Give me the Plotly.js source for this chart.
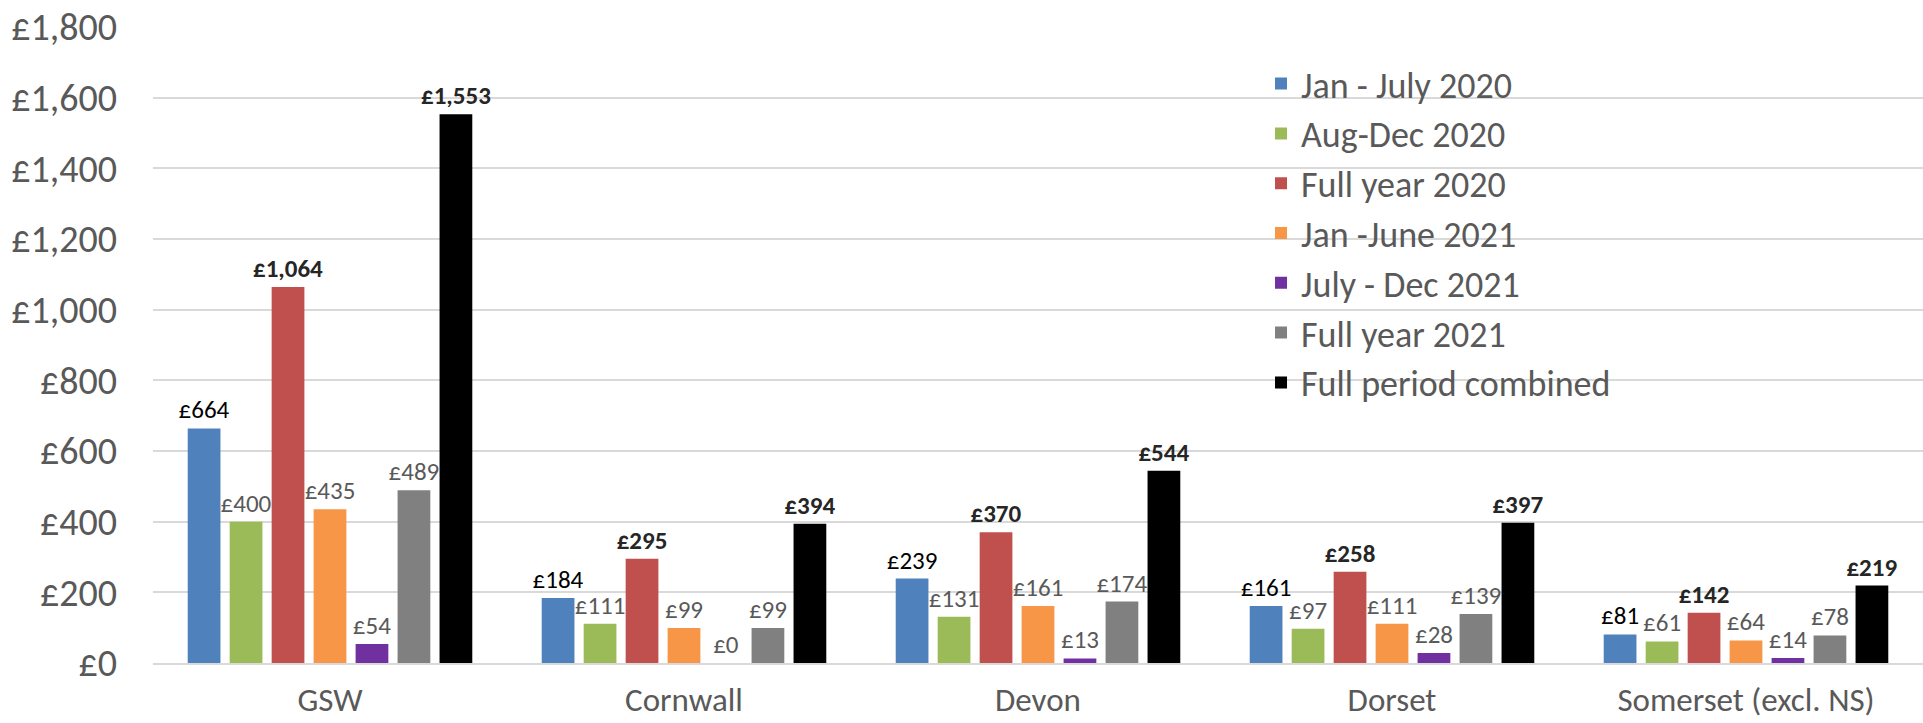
<!DOCTYPE html>
<html>
<head>
<meta charset="utf-8">
<script src="https://cdn.plot.ly/plotly-3.0.1.min.js"></script>
<style>html,body{margin:0;padding:0;background:#fff;}#chart{width:1923px;height:723px;}</style>
</head>
<body>
<div id="chart"></div>
<script>
const categories = ["GSW", "Cornwall", "Devon", "Dorset", "Somerset (excl. NS)"];
const seriesNames = ["Jan - July 2020", "Aug-Dec 2020", "Full year 2020", "Jan -June 2021", "July - Dec 2021", "Full year 2021", "Full period combined"];
const janJul2020 = [664, 184, 239, 161, 81];
const augDec2020 = [400, 111, 131, 97, 61];
const fullYear2020 = [1064, 295, 370, 258, 142];
const janJun2021 = [435, 99, 161, 111, 64];
const julDec2021 = [54, 0, 13, 28, 14];
const fullYear2021 = [489, 99, 174, 139, 78];
const fullPeriod = [1553, 394, 544, 397, 219];
const yTickVals = [0, 200, 400, 600, 800, 1000, 1200, 1400, 1600, 1800];

const seriesValues = [janJul2020, augDec2020, fullYear2020, janJun2021, julDec2021, fullYear2021, fullPeriod];
const colors = ["#4f81bd", "#9bbb59", "#c0504d", "#f79646", "#7030a0", "#808080", "#000000"];
const labelColors = ["#000000", "#595959", "#262626", "#595959", "#595959", "#595959", "#262626"];
const labelBold = [false, false, true, false, false, false, true];
const FONT = "Carlito, 'Open Sans', 'Noto Sans', sans-serif";
const fmt = v => "£" + v.toLocaleString("en-GB");

const traces = seriesValues.map((vals, i) => ({
  type: "bar",
  name: seriesNames[i],
  x: categories,
  y: vals,
  marker: {color: colors[i]},
  text: vals.map(v => labelBold[i] ? "<b>" + fmt(v) + "</b>" : fmt(v)),
  textposition: "outside",
  constraintext: "none",
  cliponaxis: false,
  textfont: {family: FONT, size: 25, color: labelColors[i]},
  hoverinfo: "skip"
}));

const layout = {
  width: 1923, height: 723,
  margin: {l: 153, r: 0, t: 27, b: 60},
  paper_bgcolor: "#ffffff", plot_bgcolor: "#ffffff",
  barmode: "group", bargap: 0.17, bargroupgap: 0.22,
  font: {family: FONT, color: "#595959"},
  xaxis: {
    type: "category", showgrid: false, showline: true, linecolor: "#d9d9d9", linewidth: 2,
    ticks: "", ticklabelstandoff: 6, tickfont: {size: 33, color: "#595959"}
  },
  yaxis: {
    range: [0, 1800], tickvals: yTickVals, ticktext: yTickVals.map(fmt),
    showgrid: true, gridcolor: "#d9d9d9", gridwidth: 2, zeroline: false,
    ticks: "", ticklabelstandoff: 35, tickfont: {size: 38, color: "#595959"}
  },
  legend: {
    x: 0.626, y: 0.958, xanchor: "left", yanchor: "top",
    bgcolor: "rgba(0,0,0,0)", font: {size: 36, color: "#595959"},
    tracegroupgap: 0
  },
  showlegend: true
};

Plotly.newPlot("chart", traces, layout, {displayModeBar: false, staticPlot: true});
</script>
</body>
</html>
